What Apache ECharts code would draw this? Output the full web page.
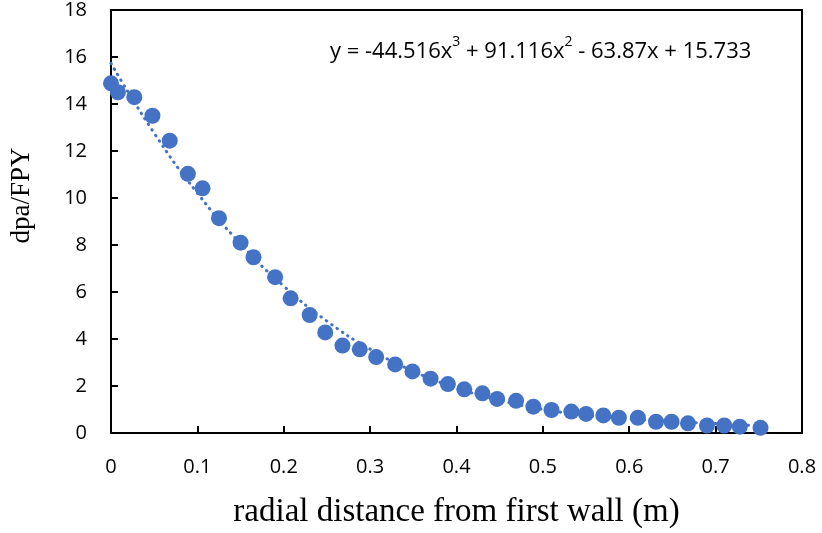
<!DOCTYPE html>
<html>
<head>
<meta charset="utf-8">
<script src="https://cdn.jsdelivr.net/npm/echarts@6/dist/echarts.min.js"></script>
<style>
html,body{margin:0;padding:0;background:#fff;}
#chart{width:822px;height:533px;}
</style>
</head>
<body>
<div id="chart"></div>
<script>
// radial distance from first wall (m)
var xValues = [0, 0.008, 0.027, 0.048, 0.068, 0.089, 0.106, 0.125, 0.150, 0.165,
  0.190, 0.208, 0.230, 0.248, 0.268, 0.288, 0.307, 0.329, 0.349, 0.370,
  0.390, 0.409, 0.430, 0.447, 0.469, 0.489, 0.510, 0.533, 0.550, 0.570,
  0.588, 0.610, 0.631, 0.649, 0.668, 0.690, 0.710, 0.728, 0.752];
// dpa/FPY
var yValues = [14.88, 14.50, 14.29, 13.50, 12.44, 11.03, 10.41, 9.14, 8.10, 7.48,
  6.63, 5.73, 5.02, 4.28, 3.72, 3.56, 3.23, 2.92, 2.62, 2.31,
  2.08, 1.86, 1.69, 1.45, 1.37, 1.12, 0.98, 0.91, 0.81, 0.75,
  0.65, 0.65, 0.48, 0.48, 0.41, 0.32, 0.32, 0.27, 0.22];
// trendline
var trendX = [0, 0.05, 0.1, 0.15, 0.2, 0.25, 0.3, 0.35, 0.4, 0.45, 0.5, 0.55, 0.6, 0.65, 0.7, 0.75];
var trendY = [15.73, 12.76, 10.21, 8.05, 6.25, 4.76, 3.57, 2.63, 1.92, 1.39, 1.01, 0.76, 0.60, 0.49, 0.40, 0.30];
var equationParts = ['y = -44.516x', '3', ' + 91.116x', '2', ' - 63.87x + 15.733'];
var xTitle = 'radial distance from first wall (m)';
var yTitle = 'dpa/FPY';

var pts = xValues.map(function(x, i){ return [x, yValues[i]]; });
var trend = trendX.map(function(x, i){ return [x, trendY[i]]; });

var blue = '#4472C4';
var chart = echarts.init(document.getElementById('chart'), null, {renderer:'canvas'});
chart.setOption({
  animation: false,
  backgroundColor: '#fff',
  grid: {left: 111, right: 20, top: 10, bottom: 100, show: true, borderColor: '#000', borderWidth: 2,
    containLabel: false, outerBoundsMode: 'none'},
  xAxis: {
    type: 'value', min: 0, max: 0.8, interval: 0.1,
    axisLine: {show: true, lineStyle: {color: '#000', width: 2}},
    axisTick: {show: true, inside: true, length: 7, lineStyle: {color: '#000', width: 2}},
    splitLine: {show: false},
    axisLabel: {margin: 24, color: '#000', fontFamily: 'Open Sans', fontSize: 20,
      formatter: function(v){ return String(Math.round(v*10)/10); }},
    name: xTitle, nameLocation: 'middle', nameGap: 63,
    nameTextStyle: {fontFamily: 'Liberation Serif', fontSize: 33, color: '#000'}
  },
  yAxis: {
    type: 'value', min: 0, max: 18, interval: 2,
    axisLine: {show: true, lineStyle: {color: '#000', width: 2}},
    axisTick: {show: true, inside: true, length: 7, lineStyle: {color: '#000', width: 2}},
    splitLine: {show: false},
    axisLabel: {margin: 24, color: '#000', fontFamily: 'Open Sans', fontSize: 20},
    name: yTitle, nameLocation: 'middle', nameGap: 76, nameRotate: 90,
    nameTextStyle: {fontFamily: 'Liberation Serif', fontSize: 27, color: '#000', padding: [0, 0, 0, 52]}
  },
  graphic: [{
    type: 'text', left: 330, top: 35,
    style: {
      text: '{a|' + equationParts[0] + '}{s|' + equationParts[1] + '}{a|' + equationParts[2] + '}{s|' + equationParts[3] + '}{a|' + equationParts[4] + '}',
      rich: {
        a: {fontFamily: 'Open Sans', fontSize: 22, fill: '#000', color: '#000', verticalAlign: 'bottom', lineHeight: 28},
        s: {fontFamily: 'Open Sans', fontSize: 14, fill: '#000', color: '#000', verticalAlign: 'top', lineHeight: 28, padding: [0,0,12,0]}
      }
    }
  }],
  series: [
    {
      type: 'line', data: trend, smooth: true, showSymbol: false, symbol: 'none', z: 3,
      lineStyle: {color: blue, width: 3, type: [0.5, 6], cap: 'round'}
    },
    {
      type: 'scatter', data: pts, symbol: 'circle', symbolSize: 16, z: 2,
      itemStyle: {color: blue, opacity: 1}
    }
  ]
});
</script>
</body>
</html>
